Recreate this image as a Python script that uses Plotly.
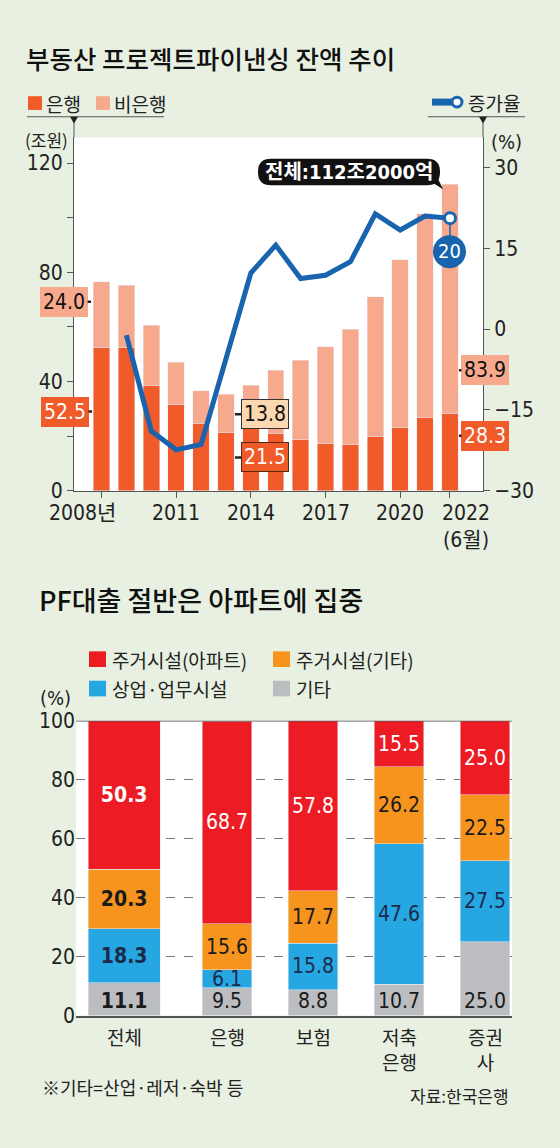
import plotly.graph_objects as go

# ---- data ----
years = list(range(2008, 2023))
bank = [52.5, 52.3, 38.7, 31.5, 24.7, 21.5, 23.3, 21.0, 18.6, 17.2, 16.8, 20.0, 23.3, 26.9, 28.3]
nonbank = [24.0, 23.0, 21.9, 15.5, 11.9, 13.8, 15.4, 23.1, 29.1, 35.5, 42.3, 51.0, 61.3, 74.5, 83.9]
growth = [None, -1.1, -18.9, -22.4, -21.4, -5.5, 10.4, 15.6, 9.4, 10.0, 12.5, 21.4, 18.4, 21.0, 20.6]
year_ticks = [2008, 2011, 2014, 2017, 2020, 2022]
year_ticktext = ["2008년", "2011", "2014", "2017", "2020", "2022<br>(6월)"]
total_text = "전체:112조2000억"
growth_text = "20"

sectors = ["전체", "은행", "보험", "저축은행", "증권사"]
sector_ticktext = ["전체", "은행", "보험", "저축<br>은행", "증권<br>사"]
etc = [11.1, 9.5, 8.8, 10.7, 25.0]
commercial = [18.3, 6.1, 15.8, 47.6, 27.5]
housing_other = [20.3, 15.6, 17.7, 26.2, 22.5]
apartment = [50.3, 68.7, 57.8, 15.5, 25.0]

# ---- style ----
W, H = 560, 1148
BG = "#e8f0e1"
BANK = "#f15a29"
NONBANK = "#f7a98d"
LINE = "#1864ae"
RED = "#ed1c24"
ORANGE = "#f7941d"
BLUE = "#27a7e1"
GRAY = "#bcbdc0"
AXIS = "#555555"
TXT = "#222222"
NUM = "Liberation Sans Narrow, DejaVu Sans Condensed, Roboto, Noto Sans CJK KR, sans-serif"
KR = "Noto Sans CJK KR, Noto Sans, sans-serif"


def px(x):
    return x / W


def py(y):
    return 1 - y / H


def label(text, x, y, size, xanchor="center", family=KR, color=TXT, **kw):
    # text placed in page pixels
    return dict(text=text, x=px(x), y=py(y), xref="paper", yref="paper", xanchor=xanchor,
                yanchor="middle", showarrow=False, font=dict(family=family, size=size, color=color), **kw)


def rrect(x0, y0, x1, y1, r):
    return (f"M {px(x0 + r)},{py(y0)} L {px(x1 - r)},{py(y0)} "
            f"Q {px(x1)},{py(y0)} {px(x1)},{py(y0 + r)} L {px(x1)},{py(y1 - r)} "
            f"Q {px(x1)},{py(y1)} {px(x1 - r)},{py(y1)} L {px(x0 + r)},{py(y1)} "
            f"Q {px(x0)},{py(y1)} {px(x0)},{py(y1 - r)} L {px(x0)},{py(y0 + r)} "
            f"Q {px(x0)},{py(y0)} {px(x0 + r)},{py(y0)} Z")


fig = go.Figure()

# top chart: stacked balances + growth line
fig.add_trace(go.Bar(x=years, y=bank, marker_color=BANK, width=0.66,
                     xaxis="x", yaxis="y", hoverinfo="skip"))
fig.add_trace(go.Bar(x=years, y=nonbank, marker_color=NONBANK, width=0.66,
                     xaxis="x", yaxis="y", hoverinfo="skip"))
fig.add_trace(go.Scatter(x=years, y=growth, mode="lines", line=dict(color=LINE, width=5),
                         xaxis="x", yaxis="y2", hoverinfo="skip"))
fig.add_trace(go.Scatter(x=[years[-1]], y=[growth[-1]], mode="markers",
                         marker=dict(size=11, color="white", line=dict(color=LINE, width=3)),
                         xaxis="x", yaxis="y2", hoverinfo="skip"))

# bottom chart: composition
seg_style = [
    (etc, GRAY, "#1a1a1a", "start"),
    (commercial, BLUE, "#1b2a4a", "middle"),
    (housing_other, ORANGE, "#1a1a1a", "middle"),
    (apartment, RED, "white", "middle"),
]
widths = [0.84, 0.58, 0.58, 0.58, 0.58]
offsets = [-0.616, -0.29, -0.29, -0.29, -0.29]
for vals, col, tcol, anchor in seg_style:
    labels = [f"<b>{v:.1f}</b>" if i == 0 else f"{v:.1f}" for i, v in enumerate(vals)]
    fig.add_trace(go.Bar(x=sectors, y=vals, marker_color=col, width=widths, offset=offsets,
                         text=labels, textposition="inside", insidetextanchor=anchor,
                         textangle=0, constraintext="none",
                         textfont=dict(family=NUM, size=21, color=tcol),
                         xaxis="x2", yaxis="y3", hoverinfo="skip"))

ann = []
shapes = []

# titles
ann.append(label("부동산 프로젝트파이낸싱 잔액 추이", 24, 46, 25.5, xanchor="left", color="#111"))
ann.append(label("PF대출 절반은 아파트에 집중", 37, 600, 27, xanchor="left", color="#111"))
ann[0]["font"]["weight"] = 500
ann[1]["font"]["weight"] = 500

# top legend
shapes.append(dict(type="rect", xref="paper", yref="paper", x0=px(28), x1=px(42), y0=py(100), y1=py(86),
                   fillcolor=BANK, line_width=0))
shapes.append(dict(type="rect", xref="paper", yref="paper", x0=px(96), x1=px(110), y0=py(100), y1=py(86),
                   fillcolor=NONBANK, line_width=0))
ann.append(label("은행", 44, 93, 19, xanchor="left"))
ann.append(label("비은행", 112, 93, 19, xanchor="left"))
shapes.append(dict(type="line", xref="paper", yref="paper", x0=px(432), x1=px(454), y0=py(92), y1=py(92),
                   line=dict(color=LINE, width=7)))
shapes.append(dict(type="circle", xref="paper", yref="paper", x0=px(452), x1=px(462), y0=py(97), y1=py(87),
                   fillcolor="white", line=dict(color=LINE, width=3)))
ann.append(label("증가율", 466, 92, 19, xanchor="left"))

# legend underlines and axis extensions with markers
for x0, x1, xa in [(27, 164, 74), (428, 525, 483)]:
    shapes.append(dict(type="line", xref="paper", yref="paper", x0=px(x0), x1=px(x1), y0=py(107), y1=py(107),
                       line=dict(color=AXIS, width=1)))
    shapes.append(dict(type="line", xref="paper", yref="paper", x0=px(xa), x1=px(xa), y0=py(107), y1=py(128),
                       line=dict(color=AXIS, width=1)))
    shapes.append(dict(type="path", xref="paper", yref="paper",
                       path=f"M {px(xa - 4)},{py(107)} L {px(xa + 4)},{py(107)} L {px(xa)},{py(114)} Z",
                       fillcolor="#222", line_width=0))

# unit labels
ann.append(label("(조원)", 46, 130, 17))
ann.append(label("(%)", 506, 133, 20, family=NUM))

# top x labels
for v, t in zip(year_ticks, year_ticktext):
    shift = -19 if v == year_ticks[0] else (16 if v == year_ticks[-1] else 0)
    ann.append(dict(text=t, x=v, y=py(497), xref="x", yref="paper", xanchor="center", yanchor="top",
                    xshift=shift, showarrow=False, font=dict(family=NUM, size=21, color=TXT)))

# value callouts in the top chart
callouts = [
    (f"{nonbank[0]:.1f}", 2007.58, 69.2, -27, NONBANK, "#111", NONBANK),
    (f"{bank[0]:.1f}", 2007.62, 29.0, -27, BANK, "white", BANK),
    (f"{nonbank[5]:.1f}", 2013.36, 28.0, 30, "#fcd8b0", "#111", "#333"),
    (f"{bank[5]:.1f}", 2013.36, 12.2, 30, BANK, "white", "#5a2a10"),
    (f"{nonbank[-1]:.1f}", 2022.36, 44.1, 26, NONBANK, "#111", NONBANK),
    (f"{bank[-1]:.1f}", 2022.36, 20.1, 26, BANK, "white", BANK),
]
for t, x, y, dx, bg, fc, bc in callouts:
    ann.append(dict(text=t, x=x, y=y, xref="x", yref="y", ax=dx, ay=0, showarrow=True,
                    arrowhead=0, arrowwidth=2.5, arrowcolor="#222", bgcolor=bg, bordercolor=bc,
                    borderwidth=1, borderpad=2, font=dict(family=NUM, size=21, color=fc)))

# total callout
shapes.append(dict(type="path", xref="paper", yref="paper", path=rrect(258, 150, 440, 177, 13),
                   fillcolor="#111", line_width=0))
shapes.append(dict(type="path", xref="paper", yref="paper",
                   path=f"M {px(426)},{py(170)} L {px(443)},{py(181)} L {px(436)},{py(166)} Z",
                   fillcolor="#111", line_width=0))
ann.append(label(f"<b>{total_text}</b>", 349, 163.5, 20, family=NUM, color="white"))

# growth label bubble
shapes.append(dict(type="line", xref="x", yref="y2", xsizemode="pixel", ysizemode="pixel",
                   xanchor=years[-1], yanchor=growth[-1], x0=0, x1=0, y0=-5, y1=-18,
                   line=dict(color=LINE, width=1.5)))
shapes.append(dict(type="circle", xref="x", yref="y2", xsizemode="pixel", ysizemode="pixel",
                   xanchor=years[-1], yanchor=growth[-1], x0=-17, x1=16, y0=-50, y1=-17,
                   fillcolor=LINE, line_width=0))
ann.append(dict(text=growth_text, x=years[-1], y=growth[-1], xref="x", yref="y2", yshift=-33, xshift=-0.5,
                xanchor="center", yanchor="middle", showarrow=False,
                font=dict(family=NUM, size=20, color="white")))

# bottom legend
for col, x, y, txt in [(RED, 89, 661, "주거시설(아파트)"), (ORANGE, 273, 661, "주거시설(기타)"),
                       (BLUE, 89, 691, "상업·업무시설"), (GRAY, 273, 691, "기타")]:
    shapes.append(dict(type="rect", xref="paper", yref="paper", x0=px(x), x1=px(x + 17),
                       y0=py(y + 8), y1=py(y - 8), fillcolor=col, line_width=0))
    ann.append(label(txt, x + 21, y, 19, xanchor="left"))
ann.append(label("(%)", 55, 701, 20, family=NUM))
shapes.append(dict(type="line", xref="x2 domain", yref="y3", x0=0, x1=1, y0=100, y1=100,
                   line=dict(color=AXIS, width=1.5)))

# bottom x labels
for i, (s, t) in enumerate(zip(sectors, sector_ticktext)):
    ann.append(dict(text=t, x=s, y=py(1031), xref="x2", yref="paper", xanchor="center", yanchor="top",
                    xshift=-17 if i == 0 else 0, showarrow=False,
                    font=dict(family=KR, size=19, color=TXT)))

# footnotes
ann.append(label("※기타=산업·레저·숙박 등", 40, 1098, 18, xanchor="left"))
ann.append(label("자료:한국은행", 511, 1107, 17, xanchor="right"))

fig.update_layout(
    width=W, height=H, margin=dict(l=0, r=0, t=0, b=0),
    paper_bgcolor=BG, plot_bgcolor="white", barmode="stack", showlegend=False,
    xaxis=dict(domain=[px(74), px(483)], range=[2006.895, 2023.326], showline=True, linecolor=AXIS,
               ticks="outside", ticklen=6, tickcolor=AXIS, tickvals=year_ticks, showticklabels=False,
               showgrid=False, zeroline=False, anchor="y"),
    yaxis=dict(domain=[py(489), py(128)], range=[0, 129.4], showline=True, linecolor=AXIS,
               ticks="outside", ticklen=6, tickcolor=AXIS, tickvals=[0, 20, 40, 60, 80, 100, 120],
               ticktext=["0", "", "40", "", "80", "", "120"], showgrid=False, zeroline=False,
               tickfont=dict(family=NUM, size=21, color=TXT), anchor="x"),
    yaxis2=dict(overlaying="y", side="right", range=[-30, 35.6], showline=True, linecolor=AXIS,
                ticks="outside", ticklen=6, tickcolor=AXIS, tickvals=[-30, -15, 0, 15, 30],
                showgrid=False, zeroline=False, tickfont=dict(family=NUM, size=21, color=TXT), anchor="x"),
    xaxis2=dict(domain=[px(76), px(512)], type="category", range=[-0.756, 4.314], showline=True,
                linecolor=AXIS, linewidth=1.5, ticks="", showticklabels=False, showgrid=False,
                zeroline=False, anchor="y3"),
    yaxis3=dict(domain=[py(1025), py(724)], range=[0, 100], tickvals=[0, 20, 40, 60, 80, 100],
                showgrid=True, gridcolor="#777", griddash="dash", gridwidth=1, showline=False,
                zeroline=False, ticks="", tickfont=dict(family=NUM, size=21, color=TXT), anchor="x2"),
    annotations=ann, shapes=shapes,
)

# drop the browser's default body margin so the figure fills the window; no modebar
fig.write_html("out.html", config={"displayModeBar": False},
               post_script=f"document.body.style.margin='0';document.body.style.background='{BG}';")
